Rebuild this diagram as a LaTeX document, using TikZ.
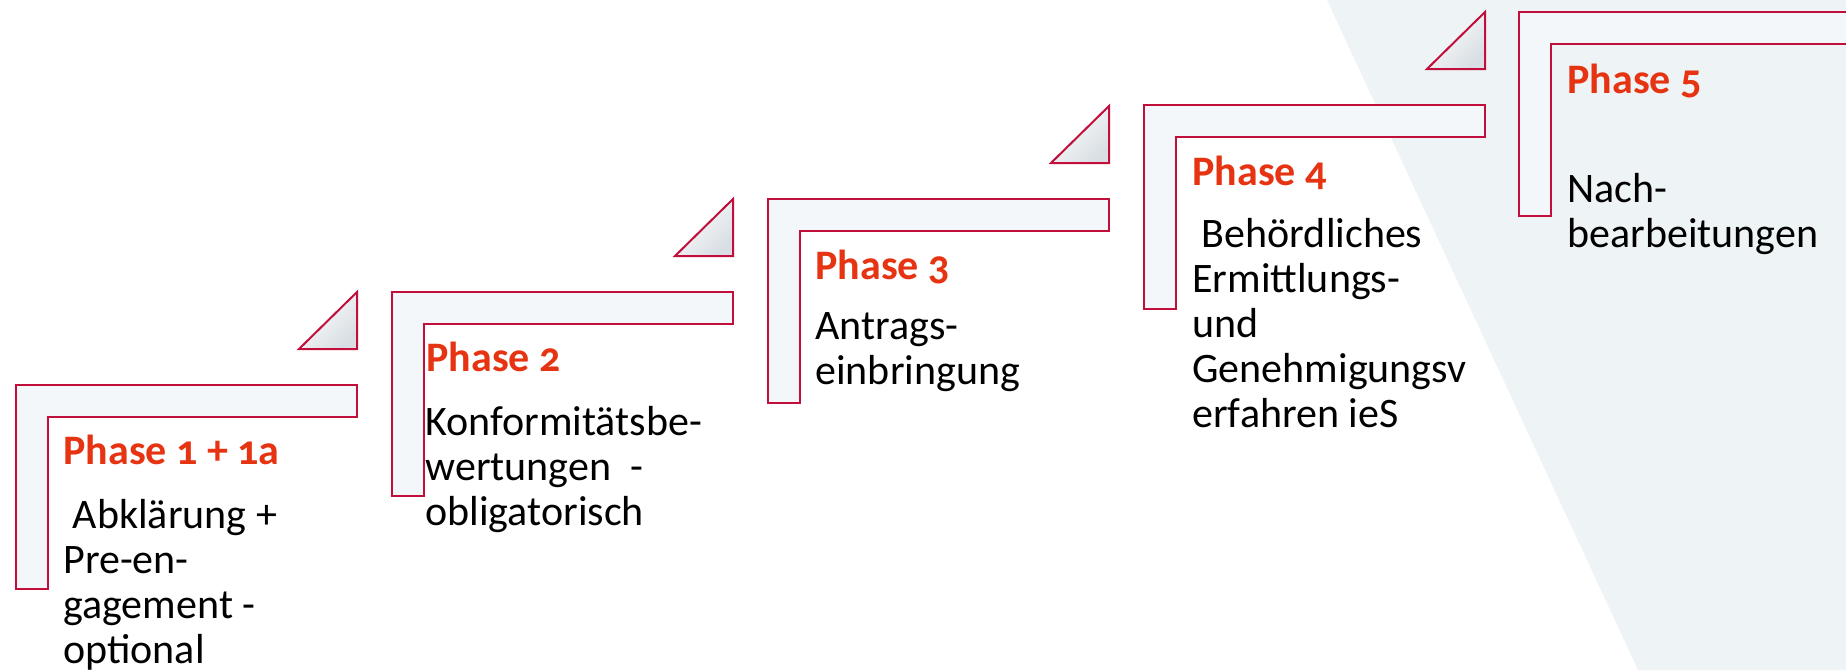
\documentclass[tikz,border=0pt]{standalone}
\usepackage{fontspec}
\setmainfont{Carlito}[Numbers=OldStyle]
\usetikzlibrary{positioning}
\definecolor{stufenrot}{HTML}{C20E3A}
\definecolor{phasenrot}{HTML}{E63312}
\definecolor{stufenfill}{HTML}{F3F7FA}
\definecolor{hintergrund}{HTML}{EEF3F6}
\definecolor{keilgrau}{HTML}{D8DEE3}
\tikzset{
  stufe/.style={draw=stufenrot, line width=1pt, fill=stufenfill},
  keil/.style={draw=stufenrot, line width=1pt, top color=white, middle color=stufenfill, bottom color=keilgrau, shading angle=45},
  phase/.style={anchor=base west, inner sep=0pt, text=phasenrot, font=\fontsize{21}{22.5}\selectfont\bfseries},
  beschreibung/.style={anchor=base west, inner sep=0pt, align=left, font=\fontsize{21}{22.5}\selectfont},
}

\begin{document}
\begin{tikzpicture}[x=0.5pt, y=-0.5pt]
        \useasboundingbox (0,0) rectangle (1846,670);
        \clip (0,0) rectangle (1846,670);
        %hintergrund rechts
        \fill[hintergrund] (1327,0) -- (1846,0) -- (1846,670) -- (1638,670) -- cycle;

        %stufe 1
        \draw[stufe] (16,385) --++ (341,0) --++ (0,32) --++ (-309,0) --++ (0,172) --++ (-32,0) -- cycle;
        \draw[keil] (299,349) --++ (58,-57) --++ (0,57) -- cycle;
        %stufe 2
        \draw[stufe] (392,292) --++ (341,0) --++ (0,32) --++ (-309,0) --++ (0,172) --++ (-32,0) -- cycle;
        \draw[keil] (675,256) --++ (58,-57) --++ (0,57) -- cycle;
        %stufe 3
        \draw[stufe] (768,199) --++ (341,0) --++ (0,32) --++ (-309,0) --++ (0,172) --++ (-32,0) -- cycle;
        \draw[keil] (1051,163) --++ (58,-57) --++ (0,57) -- cycle;
        %stufe 4
        \draw[stufe] (1144,105) --++ (341,0) --++ (0,32) --++ (-309,0) --++ (0,172) --++ (-32,0) -- cycle;
        \draw[keil] (1427,69) --++ (58,-57) --++ (0,57) -- cycle;
        %stufe 5
        \draw[stufe] (1519,12) --++ (341,0) --++ (0,32) --++ (-309,0) --++ (0,172) --++ (-32,0) -- cycle;

        %titel
        \node[phase] (ph1) at (63,464) {Phase 1 + 1a};
        \node[phase] (ph2) at (426,371) {Phase 2};
        \node[phase] (ph3) at (815,279) {Phase 3};
        \node[phase] (ph4) at (1192,185) {Phase 4};
        \node[phase] (ph5) at (1567,93) {Phase 5};

        %beschreibungen (base = letzte zeile)
        \node[beschreibung] (txt1) at (63,663) {~Abklärung +\\Pre-en-\\gagement -\\optional};
        \node[beschreibung] (txt2) at (425,525) {Konformitätsbe-\\wertungen~~-\\obligatorisch};
        \node[beschreibung] (txt3) at (815,384) {Antrags-\\einbringung};
        \node[beschreibung] (txt4) at (1192,427) {~Behördliches\\Ermittlungs-\\und\\Genehmigungsv\\erfahren ieS};
        \node[beschreibung] (txt5) at (1567,247) {Nach-\\bearbeitungen};
\end{tikzpicture}
\end{document}
